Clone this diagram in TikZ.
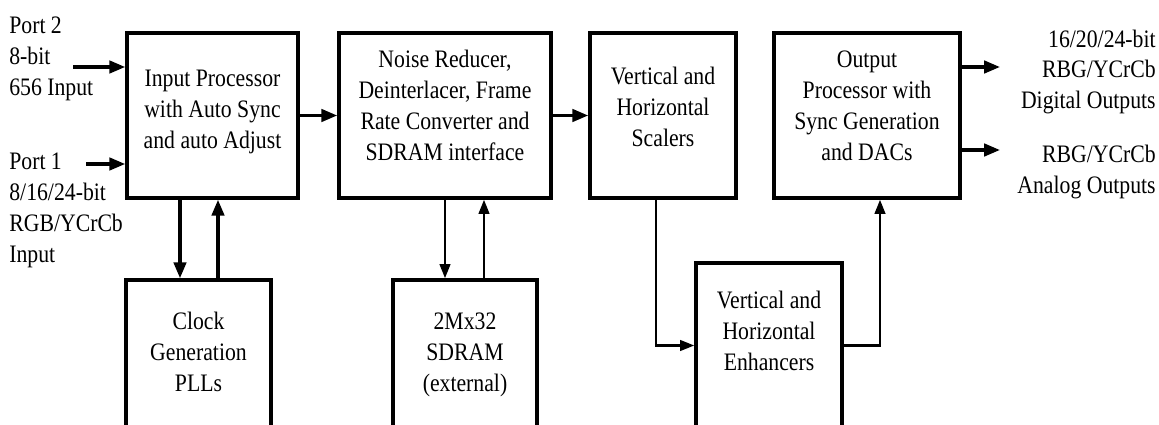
\documentclass[tikz,border=0pt]{standalone}
\usepackage{fontspec}
\setmainfont{Liberation Serif}[FakeStretch=0.865]
\usepackage{tikz}
\usetikzlibrary{arrows.meta,positioning,calc}
% block text, lifted a little above the box centre
\newcommand{\liftlines}[2]{\raisebox{#1}[\height][\depth]{\begin{tabular}{@{}c@{}}#2\end{tabular}}}

\begin{document}
\begin{tikzpicture}[x=0.02cm,y=-0.02cm,
    font=\fontsize{14.3}{17.6}\selectfont,
    block/.style={draw,line width=2pt,inner sep=2pt,minimum height=3.3cm},
    lbl/.style={inner sep=0pt},
    arr/.style={line width=1.9pt,-{Triangle[length=9pt,width=7pt]}},
    thinarr/.style={line width=1.3pt,-{Triangle[length=8pt,width=6pt]}}]
  \useasboundingbox (0,0) rectangle (1159,425);
  \clip (0,0) rectangle (1159,425);

  % Top row
  \node[block,minimum width=3.42cm] (inproc) at (212.5,115.5) {\liftlines{2.3pt}{Input Processor\\with Auto Sync\\and auto Adjust}};
  \node[block,minimum width=4.24cm] (noise) at (445,115.5) {\liftlines{4.5pt}{Noise Reducer,\\Deinterlacer, Frame\\Rate Converter and\\SDRAM interface}};
  \node[block,minimum width=2.92cm] (scal) at (663,115.5) {\liftlines{3.6pt}{Vertical and\\Horizontal\\Scalers}};
  \node[block,minimum width=3.72cm] (outp) at (867,115.5) {\liftlines{4.5pt}{Output\\Processor with\\Sync Generation\\and DACs}};

  % Bottom row
  \node[block,minimum width=2.9cm] (clock) at (198.5,362.5) {\liftlines{4.5pt}{Clock\\Generation\\PLLs}};
  \node[block,minimum width=2.88cm] (sdram) at (465,362.5) {\liftlines{4.5pt}{2Mx32\\SDRAM\\(external)}};
  \node[block,minimum width=2.92cm] (enh) at (769,345.5) {\liftlines{6.8pt}{Vertical and\\Horizontal\\Enhancers}};

  % Inputs
  \node[lbl,anchor=west,align=left] (port2) at (9,59) {Port 2\\8-bit\\656 Input};
  \node[lbl,anchor=west,align=left] (port1) at (9,210) {Port 1\\8/16/24-bit\\RGB/YCrCb\\Input};
  \coordinate (p2) at (73,67);
  \coordinate (p1) at (86,164);
  \draw[arr] (p2) -- (p2 -| inproc.west);
  \draw[arr] (p1) -- (p1 -| inproc.west);

  % Outputs
  \node[lbl,anchor=east,align=right] (dout) at (1156,72) {16/20/24-bit\\RBG/YCrCb\\Digital Outputs};
  \node[lbl,anchor=east,align=right] (aout) at (1156,172) {RBG/YCrCb\\Analog Outputs};
  \coordinate (d1) at (1000,67);
  \coordinate (a1) at (1000,150);
  \draw[arr] (d1 -| outp.east) -- (d1);
  \draw[arr] (a1 -| outp.east) -- (a1);

  % Main data path
  \draw[arr] (inproc.east) -- (noise.west);
  \draw[arr] (noise.east) -- (scal.west);
  \draw[thinarr] ($(scal.south)+(-7,0)$) |- (enh.west);
  \draw[thinarr] (enh.east) -| ($(outp.south)+(13,0)$);

  % Clock and memory
  \draw[arr] ($(inproc.south)+(-32.5,0)$) coordinate (c1) -- (c1 |- clock.north);
  \draw[arr] ($(clock.north)+(19.5,0)$) coordinate (c2) -- (c2 |- inproc.south);
  \draw[thinarr] (noise.south) -- (noise.south |- sdram.north);
  \draw[thinarr] ($(sdram.north)+(19,0)$) coordinate (s2) -- (s2 |- noise.south);
\end{tikzpicture}
\end{document}
